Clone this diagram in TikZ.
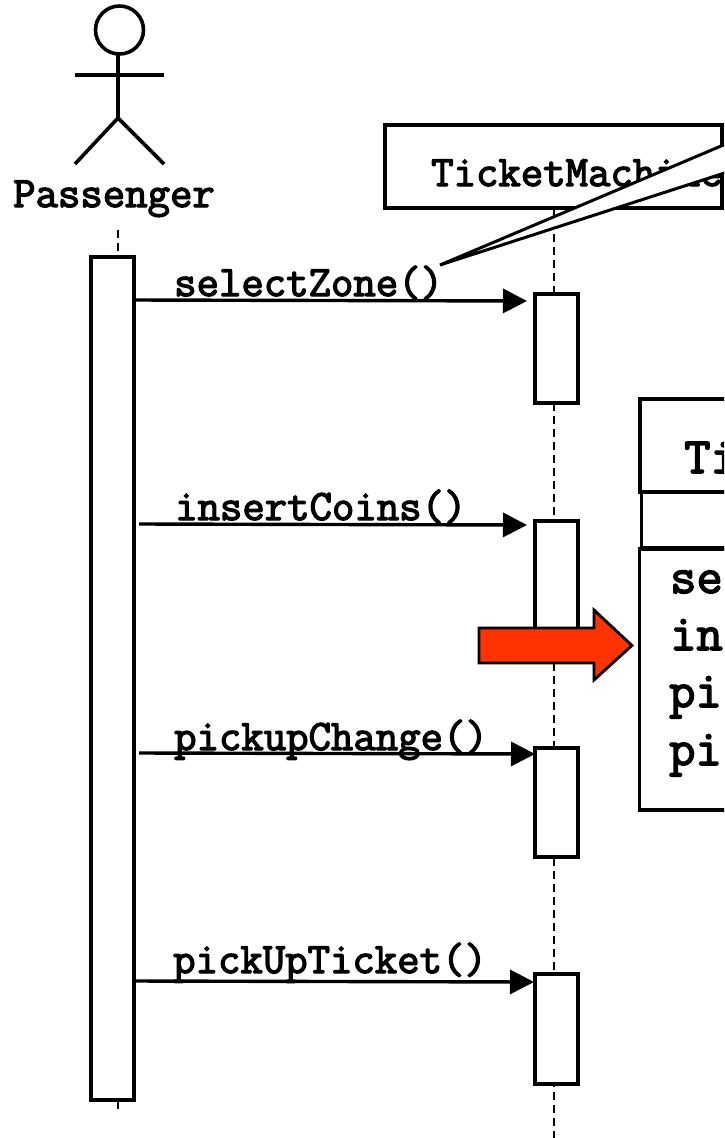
\documentclass[tikz,border=0pt]{standalone}
\usepackage{fontspec}
\newfontfamily\courb[FakeBold=3]{Latin Modern Mono}
\usetikzlibrary{arrows.meta}
\tikzset{
  ln/.style={draw=black,line width=3.6pt},
  lifeline/.style={draw=black,line width=2.4pt,dash pattern=on 8pt off 5pt},
  act/.style={ln,fill=white,rectangle,inner sep=0pt,minimum width=43pt,anchor=north west},
  lab/.style={anchor=base west,inner sep=0pt,font=\fontsize{43.5}{42}\selectfont\courb},
  big/.style={anchor=base west,inner sep=0pt,font=\fontsize{51}{50}\selectfont\courb},
  msg/.style={draw=black,line width=3.4pt,-{Triangle[length=24pt,width=24pt]}},
  part/.style={ln,fill=white,rectangle,inner sep=0pt,anchor=north west},
}
\begin{document}
\begin{tikzpicture}[x=1pt,y=-1pt]
\useasboundingbox (0,0) rectangle (724,1138);
\clip (0,0) rectangle (724,1138);
% actor
\draw[ln] (119.5,30) circle (24pt);
\coordinate (hip) at (118,118);
\draw[ln] (118,54) -- (hip);
\draw[ln,line width=4pt] (75,75) -- (164,75);
\draw[ln] (75,164) -- (hip) -- (164,164);
\node[lab] (passname) at (13,207) {Passenger};
% passenger lifeline
\coordinate (pl1) at (118,230);
\coordinate (pl2) at (118,1113);
\draw[lifeline] (pl1) -- (pl2);
\node[act,minimum height=843pt] (pass) at (89.2,255.2) {};
% machine
\coordinate (ml1) at (554,208);
\coordinate (ml2) at (554,1138);
\draw[lifeline] (ml1) -- (ml2);
\node[part,minimum width=337pt,minimum height=83pt] (machine) at (383.2,123.2) {};
\node[lab] (machname) at (431,186) {TicketMachine};
\node[act,minimum height=109pt] (a1) at (533.2,292.2) {};
\node[act,minimum height=109pt] (a2) at (533.2,519.2) {};
\node[act,minimum height=109pt] (a3) at (533.2,746.2) {};
\node[act,minimum height=110pt] (a4) at (533.2,972.2) {};
% callout
\coordinate (tip) at (440,265);
\coordinate (c1) at (740,138);
\coordinate (c2) at (740,168);
\draw[draw=black,line width=3pt,fill=white,line join=miter,miter limit=2] (tip) -- (c1) -- (c2) -- cycle;
% messages
\coordinate (m1s) at (134,300);
\coordinate (m1e) at (527,301);
\coordinate (m2s) at (139,524);
\coordinate (m2e) at (527,525);
\coordinate (m3s) at (139,753);
\coordinate (m3e) at (535,754);
\coordinate (m4s) at (134,981);
\coordinate (m4e) at (534,982);
\draw[msg] (m1s) -- (m1e);
\draw[msg] (m2s) -- (m2e);
\draw[msg] (m3s) -- (m3e);
\draw[msg] (m4s) -- (m4e);
\node[lab] (l1) at (174,296) {selectZone()};
\node[lab] (l2) at (175,520) {insertCoins()};
\node[lab] (l3) at (174,750) {pickupChange()};
\node[lab] (l4) at (173,973) {pickUpTicket()};
% class box
\node[part,minimum width=100pt,minimum height=93pt] (cname) at (638.2,397.2) {};
\node[part,minimum width=100pt,minimum height=56pt] (cattr) at (639.7,490.2) {};
\node[part,minimum width=100pt,minimum height=261pt] (cops) at (637.7,547.2) {};
\node[big] (ct) at (684,473) {TicketMachine};
\node[big] (o1) at (670,593) {selectZone()};
\node[big] (o2) at (670,650) {insertCoins()};
\node[big] (o3) at (669,707) {pickupChange()};
\node[big] (o4) at (669,765) {pickUpTicket()};
% red arrow
\draw[draw=black,line width=2.8pt,fill={rgb,255:red,255;green,51;blue,0},line join=miter]
 (479,628) -- (594,628) -- (594,610) -- (632,645.5) -- (594,680) -- (594,663) -- (479,663) -- cycle;
\end{tikzpicture}
\end{document}
